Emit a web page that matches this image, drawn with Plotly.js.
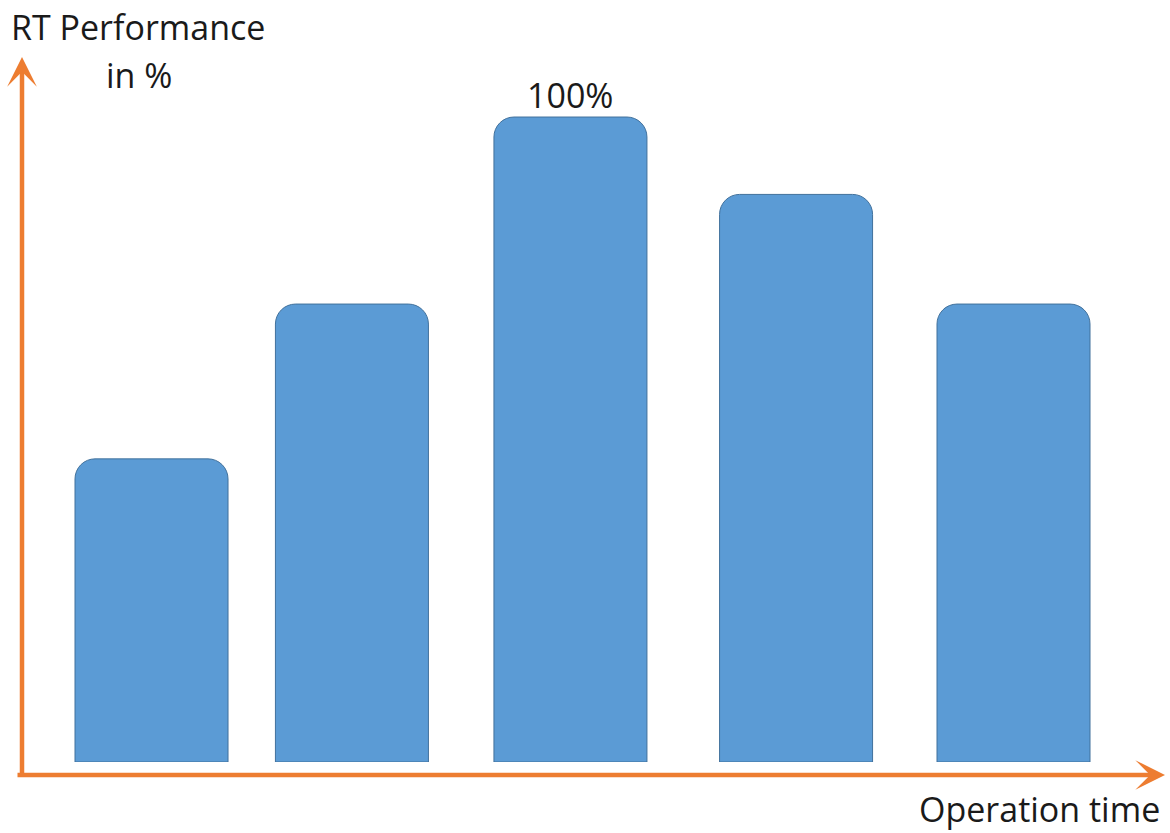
<!DOCTYPE html>
<html>
<head>
<meta charset="utf-8">
<script src="https://cdn.plot.ly/plotly-3.0.1.min.js"></script>
<style>html,body{margin:0;padding:0;background:#fff;}#chart{width:1170px;height:833px;}</style>
</head>
<body>
<div id="chart"></div>
<script>
// Data
var operationTime = [1, 1.93, 2.944, 3.991, 5];   // relative positions along the operation-time axis
var performance = [47, 71, 100, 88, 71];          // RT performance in %
var yAxisTitle = ['RT Performance', 'in %'];
var xAxisTitle = 'Operation time';

var FONT = '"Open Sans", "Noto Sans", sans-serif';
var ORANGE = '#ED7D31';
var FS = 34;

var maxIdx = performance.indexOf(Math.max.apply(null, performance));

var trace = {
  type: 'bar',
  x: operationTime,
  y: performance,
  width: 0.71,
  marker: {
    color: '#5B9BD5',
    line: {color: '#41719C', width: 1},
    cornerradius: 20
  },
  hoverinfo: 'skip'
};

var layout = {
  width: 1170,
  height: 833,
  margin: {l: 22, r: 5, t: 60, b: 71},
  paper_bgcolor: '#ffffff',
  plot_bgcolor: '#ffffff',
  showlegend: false,
  xaxis: {range: [0.399, 5.703], showgrid: false, zeroline: false, showticklabels: false, showline: false, ticks: ''},
  yaxis: {range: [0, 108.84], showgrid: false, zeroline: false, showticklabels: false, showline: false, ticks: ''},
  annotations: [
    // y axis arrow
    {xref: 'paper', yref: 'paper', x: 0, y: 1.0043, ax: 0, ay: 720, axref: 'pixel', ayref: 'pixel',
     text: '', showarrow: true, arrowhead: 3, arrowsize: 1.1, arrowwidth: 4.5, arrowcolor: ORANGE, standoff: 0, startstandoff: 0},
    // x axis arrow
    {xref: 'paper', yref: 'paper', x: 1.0, y: -0.0185, ax: -1149, ay: 0, axref: 'pixel', ayref: 'pixel',
     text: '', showarrow: true, arrowhead: 3, arrowsize: 1.1, arrowwidth: 4.5, arrowcolor: ORANGE, standoff: 0, startstandoff: 0},
    // axis titles
    {xref: 'paper', yref: 'paper', x: (138 - 22) / 1143, y: (762 - 27) / 702, xanchor: 'center', yanchor: 'middle',
     text: yAxisTitle[0], showarrow: false, font: {family: FONT, size: FS, color: '#1a1a1a'}},
    {xref: 'paper', yref: 'paper', x: (139 - 22) / 1143, y: (762 - 75) / 702, xanchor: 'center', yanchor: 'middle',
     text: yAxisTitle[1], showarrow: false, font: {family: FONT, size: FS, color: '#1a1a1a'}},
    {xref: 'paper', yref: 'paper', x: (1039 - 22) / 1143, y: (762 - 809) / 702, xanchor: 'center', yanchor: 'middle',
     text: xAxisTitle, showarrow: false, font: {family: FONT, size: FS, color: '#1a1a1a'}},
    // label of the maximum bar
    {xref: 'x', yref: 'y', x: operationTime[maxIdx], y: performance[maxIdx], xanchor: 'center', yanchor: 'bottom',
     text: performance[maxIdx] + '%', showarrow: false, yshift: -3, font: {family: FONT, size: FS, color: '#1a1a1a'}}
  ]
};

Plotly.newPlot('chart', [trace], layout, {displayModeBar: false, staticPlot: true});
</script>
</body>
</html>
